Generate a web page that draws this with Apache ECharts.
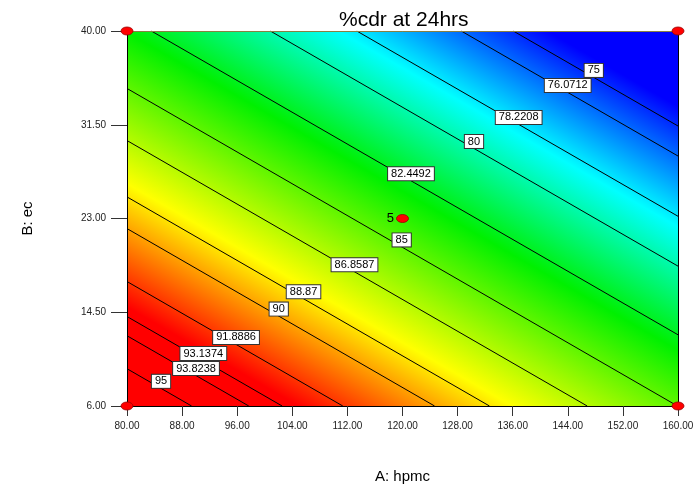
<!DOCTYPE html>
<html>
<head>
<meta charset="utf-8">
<script src="https://cdn.jsdelivr.net/npm/echarts@6/dist/echarts.min.js"></script>
<style>
html,body{margin:0;padding:0;background:#fff;}
#chart{width:697px;height:491px;}
</style>
</head>
<body>
<div id="chart"></div>
<script>
// ---- data ----
const aRange = [80, 160];          // A: hpmc
const bRange = [6, 40];            // B: ec
// predicted %cdr at the corners of the design space (BL, BR, TL, TR)
const cornerA = [80, 160, 80, 160];
const cornerB = [6, 6, 40, 40];
const cornerZ = [96.33, 84.99, 82.95, 71.61];
// contour levels and where their labels sit along A
const contourLevels = [95, 93.8238, 93.1374, 91.8886, 90, 88.87, 86.8587, 85, 82.4492, 80, 78.2208, 76.0712, 75];
const contourText = ['95', '93.8238', '93.1374', '91.8886', '90', '88.87', '86.8587', '85', '82.4492', '80', '78.2208', '76.0712', '75'];
const labelA = [84.94, 90.02, 91.08, 95.83, 102.03, 105.63, 113.03, 119.88, 121.23, 130.38, 136.87, 143.99, 147.77];
// design points
const designA = [80, 160, 80, 160, 120];
const designB = [6, 6, 40, 40, 23];
const designText = ['', '', '', '', '5'];
// tick labels
const xTickValues = [80, 88, 96, 104, 112, 120, 128, 136, 144, 152, 160];
const xTickLabels = ['80.00', '88.00', '96.00', '104.00', '112.00', '120.00', '128.00', '136.00', '144.00', '152.00', '160.00'];
const yTickValues = [6, 14.5, 23, 31.5, 40];
const yTickLabels = ['6.00', '14.50', '23.00', '31.50', '40.00'];

// ---- colour scale (style) ----
const colorStopsZ = [74.3, 78.6, 83.0, 88.4, 92.8];
const colorStopsC = ['#0000ff', '#00ffff', '#00f000', '#ffff00', '#ff0000'];

const FONT = 'Liberation Sans, Arial, Helvetica, sans-serif';

function lookup(vals, labels, v) {
  for (let i = 0; i < vals.length; i++) if (Math.abs(vals[i] - v) < 1e-6) return labels[i];
  return '';
}

// surface helpers from corner data
const zBL = cornerZ[0], zBR = cornerZ[1], zTL = cornerZ[2], zTR = cornerZ[3];
function crossEdge(p1, z1, p2, z2, q, out) {
  if ((q - z1) * (q - z2) <= 0 && z1 !== z2) {
    const t = (q - z1) / (z2 - z1);
    out.push([p1[0] + t * (p2[0] - p1[0]), p1[1] + t * (p2[1] - p1[1])]);
  }
}
function contourSegment(q) {
  const pts = [];
  const BL = [cornerA[0], cornerB[0]], BR = [cornerA[1], cornerB[1]], TL = [cornerA[2], cornerB[2]], TR = [cornerA[3], cornerB[3]];
  crossEdge(BL, zBL, BR, zBR, q, pts);
  crossEdge(BR, zBR, TR, zTR, q, pts);
  crossEdge(TR, zTR, TL, zTL, q, pts);
  crossEdge(TL, zTL, BL, zBL, q, pts);
  const uniq = [];
  pts.forEach(p => { if (!uniq.some(u => Math.abs(u[0] - p[0]) < 1e-6 && Math.abs(u[1] - p[1]) < 1e-6)) uniq.push(p); });
  return uniq.slice(0, 2);
}
function bOnContour(a, q) {
  const t = (a - aRange[0]) / (aRange[1] - aRange[0]);
  const zb = zBL + t * (zBR - zBL);
  const zt = zTL + t * (zTR - zTL);
  return bRange[0] + (q - zb) / (zt - zb) * (bRange[1] - bRange[0]);
}

const series = [];

// colour fill
series.push({
  type: 'custom',
  z: 0,
  silent: true,
  animation: false,
  data: [[aRange[0], bRange[0]]],
  renderItem: function (params, api) {
    const pBL = api.coord([aRange[0], bRange[0]]);
    const pBR = api.coord([aRange[1], bRange[0]]);
    const pTL = api.coord([aRange[0], bRange[1]]);
    const W = pBR[0] - pBL[0], H = pBL[1] - pTL[1];
    const gx = (zBR - zBL) / W, gy = -(zTL - zBL) / H;
    const g2 = gx * gx + gy * gy;
    const lo = colorStopsZ[0], hi = colorStopsZ[colorStopsZ.length - 1];
    const P = q => [pBL[0] + (q - zBL) * gx / g2, pBL[1] + (q - zBL) * gy / g2];
    const p0 = P(lo), p1 = P(hi);
    const stops = colorStopsZ.map((z, i) => ({ offset: (z - lo) / (hi - lo), color: colorStopsC[i] }));
    return {
      type: 'rect',
      shape: { x: pTL[0], y: pTL[1], width: W, height: H },
      style: { fill: new echarts.graphic.LinearGradient(p0[0], p0[1], p1[0], p1[1], stops, true) }
    };
  }
});

// contour lines
contourLevels.forEach(q => {
  series.push({
    type: 'line',
    z: 2,
    silent: true,
    animation: false,
    showSymbol: false,
    symbol: 'none',
    lineStyle: { color: '#000', width: 1 },
    data: contourSegment(q)
  });
});

// contour labels
series.push({
  type: 'scatter',
  z: 3,
  silent: true,
  animation: false,
  symbolSize: 1,
  itemStyle: { color: 'rgba(0,0,0,0)', opacity: 1 },
  data: contourLevels.map((q, i) => ({ value: [labelA[i], bOnContour(labelA[i], q)], name: contourText[i] })),
  label: {
    show: true,
    position: 'inside',
    offset: [0, -7],
    formatter: p => p.name,
    fontFamily: FONT,
    fontSize: 11,
    lineHeight: 12,
    color: '#000',
    opacity: 1,
    backgroundColor: '#fff',
    borderColor: '#333',
    borderWidth: 1,
    padding: [1, 3, 0, 3]
  }
});

// design points
series.push({
  type: 'scatter',
  z: 10,
  clip: false,
  silent: true,
  animation: false,
  symbol: 'circle',
  symbolSize: [12, 8],
  itemStyle: { color: '#ff0000', borderColor: '#990000', borderWidth: 0.8, opacity: 1 },
  data: designA.map((a, i) => ({ value: [a, designB[i]], name: designText[i] })),
  label: {
    show: true,
    position: 'left',
    distance: 2,
    formatter: p => p.name,
    fontFamily: FONT,
    fontSize: 13,
    color: '#000'
  }
});

const chart = echarts.init(document.getElementById('chart'), null, { renderer: 'canvas' });
chart.setOption({
  animation: false,
  backgroundColor: '#fff',
  textStyle: { fontFamily: FONT },
  title: {
    text: '%cdr at 24hrs',
    left: 334,
    top: 5,
    textStyle: { fontFamily: FONT, fontSize: 21, fontWeight: 'normal', color: '#000' }
  },
  grid: { left: 127, right: 19, top: 31, bottom: 85, containLabel: false },
  xAxis: [{
    type: 'value', min: aRange[0], max: aRange[1], interval: 8, position: 'bottom', z: 5,
    axisLine: { show: true, onZero: false, lineStyle: { color: '#000', width: 1 } },
    axisTick: { show: true, length: 10, lineStyle: { color: '#333' } },
    axisLabel: { margin: 15, fontSize: 10, color: '#222', fontFamily: FONT, formatter: v => lookup(xTickValues, xTickLabels, v) },
    splitLine: { show: false },
    name: 'A: hpmc', nameLocation: 'middle', nameGap: 63,
    nameTextStyle: { fontSize: 15, color: '#000', fontFamily: FONT }
  }, {
    type: 'value', min: aRange[0], max: aRange[1], position: 'top', z: 5,
    axisLine: { show: true, onZero: false, lineStyle: { color: '#8a8040', width: 1 } },
    axisTick: { show: false }, axisLabel: { show: false }, splitLine: { show: false }
  }],
  yAxis: [{
    type: 'value', min: bRange[0], max: bRange[1], interval: 8.5, position: 'left', z: 5,
    axisLine: { show: true, onZero: false, lineStyle: { color: '#000', width: 1 } },
    axisTick: { show: true, length: 16, lineStyle: { color: '#333' } },
    axisLabel: { margin: 21, fontSize: 10, color: '#222', fontFamily: FONT, formatter: v => lookup(yTickValues, yTickLabels, v) },
    splitLine: { show: false },
    name: 'B: ec', nameLocation: 'middle', nameGap: 92,
    nameTextStyle: { fontSize: 15, color: '#000', fontFamily: FONT }
  }, {
    type: 'value', min: bRange[0], max: bRange[1], position: 'right', z: 5,
    axisLine: { show: true, onZero: false, lineStyle: { color: '#000', width: 1 } },
    axisTick: { show: false }, axisLabel: { show: false }, splitLine: { show: false }
  }],
  series: series
});
</script>
</body>
</html>
